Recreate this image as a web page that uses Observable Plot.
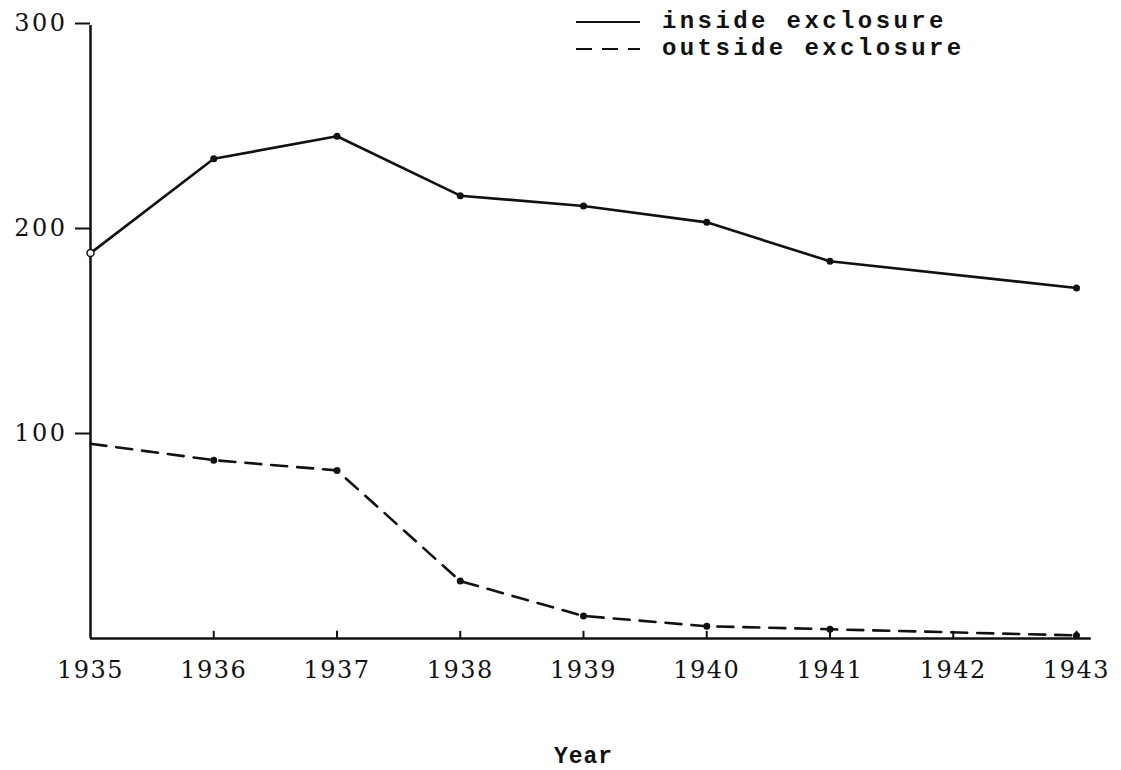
<!DOCTYPE html>
<html>
<head>
<meta charset="utf-8">
<script src="https://cdn.jsdelivr.net/npm/d3@7"></script>
<script src="https://cdn.jsdelivr.net/npm/@observablehq/plot@0.6"></script>
<style>
  body { margin: 0; background: #fff; }
  #wrap { position: relative; width: 1121px; height: 770px; }
  #legend { position: absolute; left: 576px; top: 8px; font-family: "Liberation Mono", "DejaVu Sans Mono", monospace; font-size: 24px; font-weight: bold; letter-spacing: 3.4px; color: #111; }
  #legend .row { display: flex; align-items: center; height: 27px; }
  #legend svg { margin-right: 22px; }
  g[aria-label="x-axis label"] text { font-family: "Liberation Mono", monospace; font-size: 23px; font-weight: bold; letter-spacing: 1px; }
  g[aria-label="x-axis tick label"] text { letter-spacing: 1.5px; }
  g[aria-label="y-axis tick label"] text { letter-spacing: 2.5px; }
</style>
</head>
<body>
<div id="wrap">
  <div id="chart"></div>
  <div id="legend"></div>
</div>
<script>
const years = [1935, 1936, 1937, 1938, 1939, 1940, 1941, 1943];
const tickYears = [1935, 1936, 1937, 1938, 1939, 1940, 1941, 1942, 1943];
const insideValues = [188, 234, 245, 216, 211, 203, 184, 171];
const outsideValues = [95, 87, 82, 28, 11, 6, 4.5, 1.5];
const yTicks = [100, 200, 300];
const seriesNames = ["inside exclosure", "outside exclosure"];
const dashPattern = "16,10";

const inside = years.map((y, i) => ({year: y, value: insideValues[i]}));
const outside = years.map((y, i) => ({year: y, value: outsideValues[i]}));

const ink = "#111";
const chart = Plot.plot({
  width: 1121,
  height: 770,
  marginTop: 23,
  marginBottom: 132,
  marginLeft: 90,
  marginRight: 45,
  x: {domain: [1935, 1943]},
  y: {domain: [0, 300]},
  style: {fontFamily: "'DejaVu Serif', 'Liberation Serif', serif", fontSize: "23px", color: ink, background: "#fff"},
  marks: [
    Plot.axisY({ticks: yTicks, tickSize: 15, tickPadding: 8, label: null, fontSize: 24, stroke: ink, strokeWidth: 2}),
    Plot.axisX({ticks: tickYears, tickFormat: "d", tickSize: 0, tickPadding: 22, fontSize: 24, label: "Year", labelAnchor: "center", labelArrow: "none", labelOffset: 124}),
    Plot.ruleY([0], {x1: 1935, x2: 1943.12, stroke: ink, strokeWidth: 2.5}),
    Plot.ruleX([1935], {y1: 0, y2: 299, stroke: ink, strokeWidth: 2.5}),
    Plot.ruleX(tickYears.slice(1), {x: d => d, y1: 0, y2: 3.5, stroke: ink, strokeWidth: 2}),
    Plot.line(inside, {x: "year", y: "value", stroke: ink, strokeWidth: 2.6}),
    Plot.line(outside, {x: "year", y: "value", stroke: ink, strokeWidth: 2.6, strokeDasharray: dashPattern}),
    Plot.dot(inside.slice(1), {x: "year", y: "value", r: 3.5, fill: ink}),
    Plot.dot(inside.slice(0, 1), {x: "year", y: "value", r: 3.5, fill: "#fff", stroke: ink, strokeWidth: 1.5}),
    Plot.dot(outside.slice(1), {x: "year", y: "value", r: 3.5, fill: ink})
  ]
});
document.getElementById("chart").append(chart);

const legend = document.getElementById("legend");
seriesNames.forEach((name, i) => {
  const row = document.createElement("div");
  row.className = "row";
  row.innerHTML = `<svg width="64" height="10"><line x1="0" x2="64" y1="5" y2="5" stroke="${ink}" stroke-width="2" ${i ? `stroke-dasharray="${dashPattern}"` : ""}/></svg><span>${name}</span>`;
  legend.append(row);
});
</script>
</body>
</html>
